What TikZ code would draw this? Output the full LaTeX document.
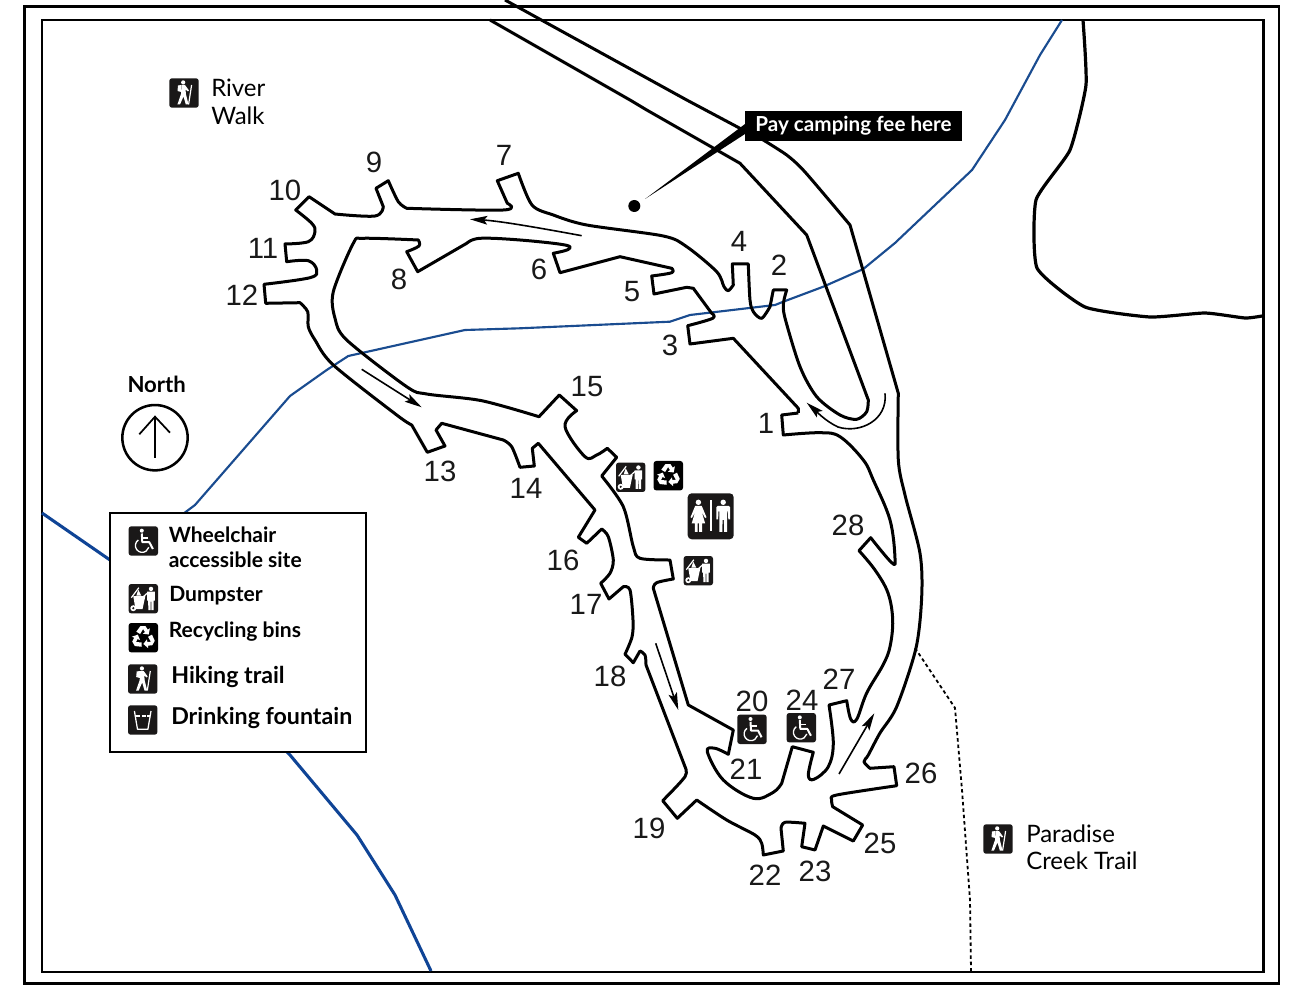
\documentclass[tikz,border=0pt]{standalone}
\usepackage{fontspec}
\setmainfont{Lato}
\newfontfamily\numfont{Liberation Sans}
\usetikzlibrary{arrows.meta}
\definecolor{trailblue}{HTML}{1A4C90}
\definecolor{riverblue}{HTML}{0F4496}
\definecolor{iconblack}{HTML}{1A1818}
\tikzset{
  road/.style={line width=2.25pt,black,line join=round},
  flow/.style={line width=1.2pt,-{Stealth[length=13pt,width=6.5pt,inset=2.5pt]}},
  num/.style={font=\numfont\fontsize{22}{24}\selectfont,inner sep=0pt,text=black!90},
  legendtext/.style={font=\bfseries\fontsize{15.8}{18}\selectfont,anchor=west,inner sep=0pt},
  legendlarge/.style={font=\bfseries\fontsize{17.4}{18}\selectfont,anchor=west,inner sep=0pt},
  maptext/.style={font=\fontsize{18}{20.5}\selectfont,anchor=north west,align=left,inner sep=0pt},
  tile/.pic={\fill[iconblack,rounded corners=2pt] (-14.7,-14.7) rectangle (14.7,14.7);},
  wheelicon/.pic={
    \pic{tile};
    \fill[white] (-1.5,-10.3) circle (2);
    \draw[white,line width=1.5pt,line join=round,line cap=butt] (-1.5,-7.5) -- (-1,1.2) -- (6,1.2) -- (9.6,8);
    \draw[white,line width=1.1pt] (-1,-3.2) -- (4.6,-3.2);
    \draw[white,line width=1pt] (-5,-1) arc[start angle=235,end angle=15,radius=6.8];
  },
  dumpicon/.pic={
    \pic{tile};
    \fill[white] (7.7,-9.8) circle (2.2);
    \fill[white] (3.8,-7) -- (11.5,-7) -- (11.5,2) -- (10.4,2) -- (10.4,11.5) -- (8.1,11.5) -- (8,3) -- (7.4,3) -- (7.3,11.5) -- (5,11.5) -- (4.9,2) -- (3.8,2) -- cycle;
    \fill[white] (-10,-2.5) -- (2,-2.5) -- (-0.8,10.5) -- (-7.8,10.5) -- cycle;
    \draw[white,line width=.9pt] (-12,-1) -- (-4.5,-11);
    \draw[white,line width=.9pt] (0,-2) -- (4.5,-6);
    \fill[white] (-5,-9) -- (-2,-3) -- (-7,-3) -- cycle;
    \fill[white] (-10,9.5) circle (3);
    \fill[iconblack] (-10,9.5) circle (1.2);
  },
  recycleicon/.pic={
    \fill[black,rounded corners=2pt] (-14.7,-14.7) rectangle (14.7,14.7);
    \foreach \r in {0,120,240}{
      \begin{scope}[rotate=\r]
        \fill[white] (-3,-11.5) -- (2.2,-11.5) -- (4.5,-8) -- (6.6,-9.4) -- (5.4,-3.2) -- (-0.4,-4) -- (1.7,-5.6) -- (-0.2,-8.6) -- (-3.2,-3.7) -- (-7,-6) -- cycle;
      \end{scope}
    }
  },
  hikeicon/.pic={
    \pic{tile};
    \fill[white] (-.8,-10.6) circle (2.1);
    \fill[white] (-6,-7.5) -- (-2.8,-8) -- (-2.8,-1) -- (-6.5,-2) -- cycle;
    \fill[white] (-2.5,-8) -- (1,-8) -- (5,-2.5) -- (4,-1.5) -- (1.5,-3.5) -- (2,1.5) -- (4.5,11.5) -- (1.8,11.5) -- (-.5,3.5) -- (-4,11.5) -- (-6.6,11.5) -- (-3,1) -- cycle;
    \draw[white,line width=.9pt] (7.6,-8) -- (4.6,11.5);
  },
  fountainicon/.pic={
    \pic{tile};
    \draw[white,line width=.95pt,line join=round] (-8.3,-9) -- (-5.2,9.3) -- (5.2,9.3) -- (8.3,-9);
    \draw[white,line width=1.2pt,dash pattern=on 3pt off 1.2pt] (-6.8,-4) -- (6.8,-4);
  },
  restroomicon/.pic={
    \fill[iconblack,rounded corners=3pt] (-23,-23) rectangle (23,23);
    \draw[white,line width=1.7pt] (0,-16) -- (0,15);
    \fill[white] (-12.3,-14) circle (2.7);
    \fill[white] (-15.5,-10.5) -- (-9,-10.5) -- (-4.2,1) -- (-5.6,1.8) -- (-9,-4.5) -- (-5.6,7) -- (-8.7,7) -- (-8.7,15.5) -- (-11.5,15.5) -- (-11.5,7) -- (-13,7) -- (-13,15.5) -- (-15.8,15.5) -- (-15.8,7) -- (-19,7) -- (-15.5,-4.5) -- (-18.8,1.8) -- (-20.2,1) -- cycle;
    \fill[white] (12.5,-14) circle (2.7);
    \fill[white] (7,-10.5) -- (18,-10.5) -- (19.4,-9) -- (19.4,3) -- (17.6,3) -- (17.2,-5) -- (16.4,-5) -- (16.4,15.5) -- (13.5,15.5) -- (13.2,3.5) -- (11.9,3.5) -- (11.6,15.5) -- (8.6,15.5) -- (8.6,-5) -- (7.8,-5) -- (7.4,3) -- (5.6,3) -- (5.6,-9) -- cycle;
  }
}
\begin{document}
\begin{tikzpicture}[x=0.75pt,y=-0.75pt]
\useasboundingbox (0,0) rectangle (1300,1005);
\fill[white] (0,0) rectangle (1300,1005);
% frames
\draw[line width=1.9pt] (24.5,6.7) rectangle (1279,983.6);
\draw[line width=1.6pt] (42,20) rectangle (1263.5,971.7);
% trails and water
\draw[trailblue,line width=1.6pt,line join=round] (1062,20) -- (1040,55) -- (1005,120) -- (972,170) -- (895,243) -- (863.3,269) -- (823.3,286.7) -- (783.3,301.7) -- (775,305) -- (690,315) -- (670,321.7) -- (520,328.3) -- (465,330) -- (348.3,356) -- (326.7,370) -- (290,396) -- (195,505) -- (175,520);
\draw[riverblue,line width=2.3pt,line join=round] (42,513) -- (110,560) -- (200,660) -- (290,755) -- (357,835) -- (395,895) -- (431,971);
\draw[line width=2.4pt,line join=round] plot[smooth,tension=.3] coordinates {(1083,20) (1086,85) (1070,150) (1036,200) (1037,268) (1085,307) (1150,317) (1205,313) (1245,318) (1262,316)};
\draw[line width=1.35pt,dash pattern=on 2.6pt off 2.2pt] (915,648) -- (955,708) -- (962,790) -- (970,900) -- (971,971);
% entrance road
\draw[road] (505,0) -- (686.7,100) -- (745,131) -- (760,138) -- plot[smooth,tension=.4] coordinates {(760,138) (786.7,155) (805,172) (850,225)} -- (898.3,393.3) -- plot[smooth,tension=.5] coordinates {(898.3,393.3) (898.3,460) (905,495) (920,553.3) (921.7,596.7) (916,648) (896.7,706.7) (880,733) (868.3,755) (864,761.7) (870,768.3)} -- (894,766.7) -- (896.7,785.7) -- plot[smooth,tension=.5] coordinates {(896.7,785.7) (836.7,795) (831.7,800) (832.7,806.7)} -- (862.7,825) -- (853.3,841) -- (823.3,826) -- (815,850) -- (801.7,846.7) -- (805,823.3) -- plot[smooth,tension=.5] coordinates {(805,823.3) (785,822.3) (781,828.3)} -- (783.3,851) -- (763.3,855) -- plot[smooth,tension=.5] coordinates {(763.3,855) (761.7,843.3) (755,835) (726.7,820) (696.7,800)} -- (677.3,818.3) -- (662.7,800.7) -- plot[smooth,tension=.5] coordinates {(662.7,800.7) (685,776.7) (685,766.7) } -- (646,665) -- plot[smooth,tension=.6] coordinates {(646,665) (645,655) (640,651)} -- (633.3,662.7) -- (625,654.3) -- plot[smooth,tension=.5] coordinates {(625,654.3) (632,637) (633,620) (630,590) (623.3,586.7)} -- (609,599) -- (600.7,583.3) -- plot[smooth,tension=.5] coordinates {(600.7,583.3) (610,573.3) (613.3,560) (608.3,536.7) (601.7,529)} -- (586.7,543.3) -- (578.3,537.3) -- (595,510) -- (538.3,443.3) -- plot[smooth,tension=.6] coordinates {(538.3,443.3) (532.3,448.3)} -- (534.3,466) -- (520,467.3) -- plot[smooth,tension=.5] coordinates {(520,467.3) (511.7,446.7) (503.3,440)} -- (441.7,423.3) -- plot[smooth,tension=.6] coordinates {(441.7,423.3) (436,430)} -- (445,446) -- (427.3,452.3) -- (411.7,425) -- plot[smooth,tension=.5] coordinates {(411.7,425) (396.7,415) (333.3,365) (315,340) (308.3,326.7) (307.7,311.7) (300,302.7)} -- (265.7,303.3) -- (264,284.3) -- plot[smooth,tension=.6] coordinates {(264,284.3) (310,277.7) (316.7,270) (308.3,260.7) (286.7,261.7)} -- (285,244) -- plot[smooth,tension=.6] coordinates {(285,244) (308.3,241.7) (315,231.7) (311.7,223.3) (295.7,210)} -- (309,196.7) -- (335,214) -- plot[smooth,tension=.6] coordinates {(335,214) (375,216) (383.3,206.7)} -- (376,188.3) -- (388.3,180.7) -- plot[smooth,tension=.5] coordinates {(388.3,180.7) (398.3,201.7) (406.7,208.3)} -- plot[smooth,tension=.6] coordinates {(406.7,208.3) (503.3,210) (507.3,203.3)} -- (497.3,180.7) -- (518.3,173.3) -- plot[smooth,tension=.5] coordinates {(518.3,173.3) (532,205) (553.3,215) (586.7,225) (663.3,236) (686.7,246.7) (716.7,271.7) (724,286.7) (728.3,290.7) (733.3,285)} -- (732.3,264) -- (748.3,264) -- plot[smooth,tension=.5] coordinates {(748.3,264) (750,300) (753.3,311.7) (761.7,318.3) (770,306.7)} -- (773.3,290) -- (786.7,290) -- plot[smooth,tension=.5] coordinates {(786.7,290) (783.5,303) (785,318) (800,366.7) (816.7,396.7) (840,415) (856.7,419.3) (866.7,411.7) (868.3,400)} -- (806.7,235) -- (740,163.3) -- (646.7,110) -- (630,100) -- (490,20);
% loop inner edge
\draw[road] (798.3,413) -- (798.3,408.3) -- (733.3,338.3) -- (690,344) -- (687.7,325.7) -- plot[smooth,tension=.6] coordinates {(687.7,325.7) (712.7,318.3) (711.7,313.3)} -- (693.3,288.3) -- (686.7,287.3) -- (654,294) -- (651.7,276) -- plot[smooth,tension=.6] coordinates {(651.7,276) (671.7,272.7) (671.7,268.3)} -- plot[smooth,tension=.5] coordinates {(671.7,268.3) (620,256.7)} -- (560,272.7) -- (553.3,253.3) -- plot[smooth,tension=.6] coordinates {(553.3,253.3) (568,249.5) (565,245) (520,240) (480,238.3) (466.7,243.3)} -- (417.7,271.7) -- (406.7,251.7) -- plot[smooth,tension=.6] coordinates {(406.7,251.7) (419,246) (418.3,240)} -- plot[smooth,tension=.5] coordinates {(418.3,240) (363.3,238.3) (353.3,243.3) (333.3,291.7) (335,318.3) (346.7,340) (406.7,386.7) (426.7,394) (481.7,400.7) (539,416.7)} -- (559.3,395) -- (576.7,410.7) -- plot[smooth,tension=.6] coordinates {(576.7,410.7) (565,426.7) (585,456.7) (596.7,455) (607.3,448.3)} -- (616.7,457.3) -- (601.7,476) -- plot[smooth,tension=.5] coordinates {(601.7,476) (623.3,506.7) (633.3,546.7) (640,558.3) (670,560)} -- (673.3,579) -- plot[smooth,tension=.6] coordinates {(673.3,579) (656.7,582.7) (653.3,588.3)} -- (688.3,705) -- (733.3,730) -- (728.3,754.3) -- plot[smooth,tension=.6] coordinates {(728.3,754.3) (715,748.3) (707.3,751.7) (723.3,780) (753.3,798.3) (773.3,792.3) (781.7,783.3)} -- (792.3,746.7) -- (813.3,752.3) -- plot[smooth,tension=.6] coordinates {(813.3,752.3) (808.3,775) (814,779.3) (828.3,766.7) (833.3,743.3) (829,705)} -- (846.7,700.7) -- plot[smooth,tension=.6] coordinates {(846.7,700.7) (850.7,719) (856.7,719.3) (866.7,693) (883,665) (890,646.7) (892.7,620) (888,593) (875,570) (859,550.7)} -- (870.7,537.7) -- plot[smooth,tension=.6] coordinates {(870.7,537.7) (891.7,562.7) (895,558.3) (890,520) (873.3,480) (863.3,460) (840,436.7) (820,432.7) (783.3,435)} -- (781.7,415) -- (798.3,413);
% traffic arrows
\draw[flow] (581.7,235.7) .. controls (540,228) and (500,221) .. (470,219.3);
\draw[flow] (361.7,369.3) -- (421.7,407.3);
\draw[flow] (655.7,643.3) -- (678.3,710);
\draw[flow] (839,774) -- (874.3,713.3);
\draw[flow] (885,393.3) .. controls (888,420) and (860,434) .. (838,427) .. controls (825,421) and (815,410) .. (806.7,402.7);
% fee notice
\fill (634.3,206) circle (6);
\fill (645,199) -- (745,124) -- (745,134) -- cycle;
\node[fill=black,text=white,font=\bfseries\fontsize{15.5}{16}\selectfont,minimum width=162.75pt,minimum height=22.5pt,inner sep=0pt] (fee) at (853.5,126) {Pay camping fee here};
% site numbers
\foreach \n/\x/\y in {1/766/423,2/779/265,3/670/345,4/739/241,5/632/292,6/539/269,7/504/155,8/399/279,9/374/162,10/285/190,11/263/248,12/242/295,13/440/471,14/526/488,15/587/387,16/563/560,17/586/604,18/610/676,19/649/828,20/752/701,21/746/769,22/765/875,23/815/871,24/802/700,25/880/843,26/921/773,27/839/679,28/848/525}
  \node[num] (site\n) at (\x,\y) {\n};
% map icons
\pic at (184,93) {hikeicon};
\pic at (998,839) {hikeicon};
\pic at (630.7,477.3) {dumpicon};
\pic at (668.3,475.7) {recycleicon};
\pic at (710.7,516.3) {restroomicon};
\pic at (698.3,570.7) {dumpicon};
\pic at (752,729.3) {wheelicon};
\pic at (801.3,727.7) {wheelicon};
% text
\node[maptext] (river) at (211,79) {River\\Walk};
\node[maptext] (paradise) at (1026,824.5) {Paradise\\Creek Trail};
\node[font=\bfseries\fontsize{16.6}{18}\selectfont,inner sep=0pt] (north) at (156.7,384.3) {North};
\node[draw,circle,line width=1.9pt,minimum size=49pt,inner sep=0pt] (ncircle) at (155,437.7) {};
\coordinate (ntip) at (155,416.7);
\coordinate (nbase) at (155,458);
\draw[line width=1.3pt] (nbase) -- (ntip);
\draw[line width=1.3pt] (139.3,434.3) -- (ntip) -- (170,432.7);
% legend
\draw[line width=1.5pt,fill=white] (110,512.7) rectangle (366,752.3);
\pic at (143.3,541) {wheelicon};
\pic at (143.3,598.7) {dumpicon};
\pic at (143.3,637.7) {recycleicon};
\pic at (142.7,679) {hikeicon};
\pic at (142.7,720) {fountainicon};
\node[legendtext] (lw) at (168.5,535) {Wheelchair};
\node[legendtext] (la) at (168.5,560) {accessible site};
\node[legendtext] (ld) at (169,596) {Dumpster};
\node[legendtext] (lr) at (168.5,632) {Recycling bins};
\node[legendlarge] (lh) at (171,677) {Hiking trail};
\node[legendlarge] (lf) at (171,718) {Drinking fountain};
\end{tikzpicture}
\end{document}
